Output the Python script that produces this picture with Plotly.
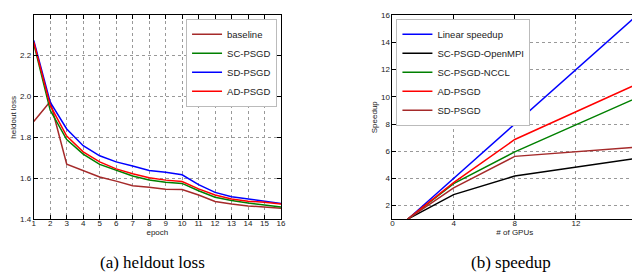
import plotly.graph_objects as go

# ---- data: heldout loss (left) ----
epochs = list(range(1, 17))
baseline = [1.877, 1.975, 1.669, 1.638, 1.606, 1.586, 1.564, 1.556, 1.546, 1.545, 1.518, 1.487, 1.474, 1.465, 1.458, 1.454]
sc_psgd = [2.258, 1.932, 1.789, 1.718, 1.668, 1.638, 1.611, 1.592, 1.581, 1.575, 1.539, 1.507, 1.491, 1.479, 1.471, 1.460]
sd_psgd = [2.274, 1.972, 1.841, 1.759, 1.710, 1.680, 1.660, 1.638, 1.630, 1.617, 1.569, 1.531, 1.510, 1.498, 1.488, 1.477]
ad_psgd = [2.266, 1.956, 1.806, 1.729, 1.680, 1.646, 1.622, 1.603, 1.591, 1.584, 1.548, 1.518, 1.499, 1.488, 1.483, 1.474]

# ---- data: speedup (right) ----
gpus = [1, 4, 8, 16]
linear_speedup = [1, 4, 8, 16]
sc_openmpi = [1, 2.81, 4.17, 5.48]
sc_nccl = [1, 3.62, 5.95, 9.93]
ad_speed = [1, 3.69, 6.86, 10.93]
sd_speed = [1, 3.31, 5.62, 6.31]

left_ticks = list(range(1, 17))
left_yticks = [1.4, 1.6, 1.8, 2.0, 2.2]
right_xticks = [0, 4, 8, 12, 16]
right_yticks = [2, 4, 6, 8, 10, 12, 14, 16]

BROWN = "#a52a2a"
GREEN = "#008000"
BLUE = "#0000ff"
RED = "#ff0000"
BLACK = "#000000"

fig = go.Figure()

left_series = [("baseline", baseline, BROWN), ("SC-PSGD", sc_psgd, GREEN),
               ("SD-PSGD", sd_psgd, BLUE), ("AD-PSGD", ad_psgd, RED)]
for name, vals, col in left_series:
    fig.add_trace(go.Scatter(x=epochs, y=vals, name=name, mode="lines",
                             line=dict(color=col, width=1.5),
                             xaxis="x", yaxis="y", legend="legend"))

right_series = [("Linear speedup", linear_speedup, BLUE), ("SC-PSGD-OpenMPI", sc_openmpi, BLACK),
                ("SC-PSGD-NCCL", sc_nccl, GREEN), ("AD-PSGD", ad_speed, RED),
                ("SD-PSGD", sd_speed, BROWN)]
for name, vals, col in right_series:
    fig.add_trace(go.Scatter(x=gpus, y=vals, name=name, mode="lines",
                             line=dict(color=col, width=1.5),
                             xaxis="x2", yaxis="y2", legend="legend2"))

W, H = 640, 272
tickfont = dict(family="Liberation Sans, Arial", size=8, color="#222")
axcommon = dict(showline=True, linecolor="black", linewidth=1, mirror="allticks",
                ticks="inside", ticklen=4, tickcolor="black", showgrid=True,
                gridcolor="#999", griddash="dot", gridwidth=1, zeroline=False,
                ticklabeloverflow="allow", tickfont=tickfont,
                title_font=dict(family="Liberation Sans, Arial", size=8, color="#222"))

legfont = dict(family="Liberation Sans, Arial", size=9.5, color="#222")

fig.update_layout(
    width=W, height=H, margin=dict(l=0, r=0, t=0, b=0),
    paper_bgcolor="white", plot_bgcolor="white",
    xaxis=dict(domain=[24 / W, 274 / W], range=[1, 16], tickvals=left_ticks, ticklabelstandoff=-4,
               title=dict(text="epoch", standoff=0), anchor="y", **axcommon),
    yaxis=dict(domain=[1 - 214.3 / H, 1 - 3.5 / H], range=[1.4, 2.396], tickvals=left_yticks,
               tickformat=".1f", title=dict(text="heldout loss", standoff=2), anchor="x", **axcommon),
    xaxis2=dict(domain=[386.7 / W, 634 / W], range=[0, 16], tickvals=right_xticks, ticklabelstandoff=-4,
                title=dict(text="# of GPUs", standoff=0), anchor="y2", **axcommon),
    yaxis2=dict(domain=[1 - 214.3 / H, 1 - 3.3 / H], range=[1, 16], tickvals=right_yticks,
                title=dict(text="Speedup", standoff=2), anchor="x2", **axcommon),
    legend=dict(x=270 / W, y=1 - 7 / H, xanchor="right", yanchor="top", itemwidth=30,
                bgcolor="white", bordercolor="#bbb", borderwidth=1, font=legfont),
    legend2=dict(x=390.7 / W, y=1 - 7 / H, xanchor="left", yanchor="top", itemwidth=30,
                 bgcolor="white", bordercolor="#bbb", borderwidth=1, font=legfont),
    showlegend=True,
    annotations=[
        dict(text="(a) heldout loss", x=144 / W, y=1 - 259 / H, xref="paper", yref="paper",
             xanchor="center", yanchor="middle", showarrow=False,
             font=dict(family="Liberation Serif, Times New Roman", size=17, color="black")),
        dict(text="(b) speedup", x=507 / W, y=1 - 259 / H, xref="paper", yref="paper",
             xanchor="center", yanchor="middle", showarrow=False,
             font=dict(family="Liberation Serif, Times New Roman", size=17, color="black")),
    ],
)

fig.write_html("out.html")
